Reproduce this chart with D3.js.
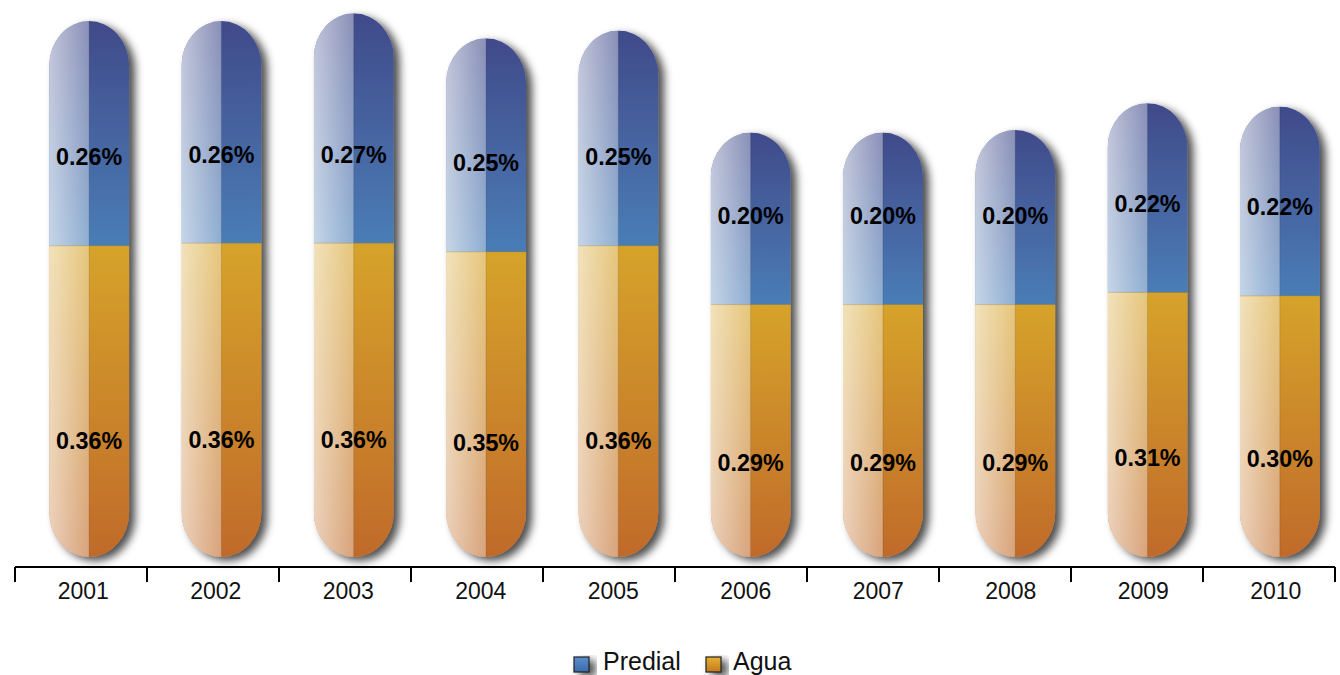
<!DOCTYPE html>
<html>
<head>
<meta charset="utf-8">
<script src="https://cdn.jsdelivr.net/npm/d3@7"></script>
<style>
  body { margin: 0; background: #fff; }
  text { font-family: "Liberation Sans", Arial, sans-serif; }
</style>
</head>
<body>
<div id="chart"></div>
<script>
// data
var years = ["2001", "2002", "2003", "2004", "2005", "2006", "2007", "2008", "2009", "2010"];
var agua = [0.360, 0.363, 0.363, 0.353, 0.360, 0.292, 0.292, 0.292, 0.306, 0.302];
var predial = [0.260, 0.257, 0.266, 0.247, 0.249, 0.199, 0.199, 0.202, 0.219, 0.219];
var seriesNames = ["Predial", "Agua"];

var svgWidth = 1340;
var svgHeight = 675;

var svg = d3.select("#chart")
  .append("svg")
  .attr("width", svgWidth)
  .attr("height", svgHeight);

var defs = svg.append("defs");

// vertical colour gradients
function vGrad(id, top, bottom) {
  var g = defs.append("linearGradient").attr("id", id)
    .attr("x1", 0).attr("y1", 0).attr("x2", 0).attr("y2", 1);
  g.append("stop").attr("offset", "0%").attr("stop-color", top);
  g.append("stop").attr("offset", "100%").attr("stop-color", bottom);
}
vGrad("gPredial", "#414a8a", "#4a7db6");
vGrad("gAgua", "#d6a32a", "#c06a2a");
vGrad("gPredialLeg", "#5a8fd0", "#3a6aa8");
vGrad("gAguaLeg", "#e8b030", "#c07a20");

// white sheen for the left half
var sheen = defs.append("linearGradient").attr("id", "sheen")
  .attr("x1", 0).attr("y1", 0).attr("x2", 1).attr("y2", 0);
sheen.append("stop").attr("offset", "0%").attr("stop-color", "#fff").attr("stop-opacity", 0.68);
sheen.append("stop").attr("offset", "100%").attr("stop-color", "#fff").attr("stop-opacity", 0.38);

var shadow = defs.append("filter").attr("id", "shadow")
  .attr("x", "-30%").attr("y", "-10%").attr("width", "180%").attr("height", "130%");
shadow.append("feDropShadow")
  .attr("dx", 6).attr("dy", 4).attr("stdDeviation", 4.5)
  .attr("flood-color", "#000").attr("flood-opacity", 0.7);

// scales: axis bands, bar positions, tick label positions
var xScale = d3.scaleBand()
  .domain(years)
  .range([15, 1335])
  .padding(0);

var barScale = d3.scaleBand()
  .domain(years)
  .range([23, 1346])
  .padding(0);

var labelScale = d3.scaleBand()
  .domain(years)
  .range([17, 1342])
  .padding(0);

var yScale = d3.scaleLinear()
  .domain([0, 0.62])
  .range([557, 21]);

var barW = 80;
var rx = barW / 2, ry = 45;

var data = years.map(function(y, i) {
  return { year: y, agua: agua[i], predial: predial[i], i: i };
});

function cx(d) { return barScale(d.year) + barScale.bandwidth() / 2; }

function capsule(d) {
  var l = cx(d) - rx, r = cx(d) + rx;
  var top = yScale(d.agua + d.predial), bot = yScale(0);
  return "M" + l + "," + (top + ry) +
    " A" + rx + "," + ry + " 0 0 1 " + r + "," + (top + ry) +
    " L" + r + "," + (bot - ry) +
    " A" + rx + "," + ry + " 0 0 1 " + l + "," + (bot - ry) + " Z";
}

data.forEach(function(d) {
  defs.append("clipPath").attr("id", "clip" + d.i)
    .append("path").attr("d", capsule(d));
});

var bars = svg.selectAll(".bar")
  .data(data)
  .enter()
  .append("g")
  .attr("class", "bar")
  .attr("filter", "url(#shadow)");

var inner = bars.append("g")
  .attr("clip-path", function(d) { return "url(#clip" + d.i + ")"; });

// agua segment
inner.append("rect")
  .attr("x", function(d) { return cx(d) - rx; })
  .attr("y", function(d) { return yScale(d.agua); })
  .attr("width", barW)
  .attr("height", function(d) { return yScale(0) - yScale(d.agua); })
  .attr("fill", "url(#gAgua)");

// predial segment
inner.append("rect")
  .attr("x", function(d) { return cx(d) - rx; })
  .attr("y", function(d) { return yScale(d.agua + d.predial); })
  .attr("width", barW)
  .attr("height", function(d) { return yScale(d.agua) - yScale(d.agua + d.predial); })
  .attr("fill", "url(#gPredial)");

// left half sheen
inner.append("rect")
  .attr("x", function(d) { return cx(d) - rx; })
  .attr("y", 0)
  .attr("width", rx)
  .attr("height", yScale(0) + 5)
  .attr("fill", "url(#sheen)");

// divider lines
inner.append("line")
  .attr("x1", function(d) { return cx(d); })
  .attr("x2", function(d) { return cx(d); })
  .attr("y1", 0)
  .attr("y2", yScale(0) + 5)
  .attr("stroke", "#000")
  .attr("stroke-opacity", 0.12);

inner.append("line")
  .attr("x1", function(d) { return cx(d) - rx; })
  .attr("x2", function(d) { return cx(d) + rx; })
  .attr("y1", function(d) { return yScale(d.agua); })
  .attr("y2", function(d) { return yScale(d.agua); })
  .attr("stroke", "#b08020")
  .attr("stroke-opacity", 0.35);

// value labels
svg.selectAll(".lblP")
  .data(data)
  .enter()
  .append("text")
  .attr("x", cx)
  .attr("y", function(d) { return yScale(d.agua + 0.103); })
  .attr("dy", "0.36em")
  .attr("text-anchor", "middle")
  .attr("font-weight", "bold")
  .attr("font-size", "23.3px")
  .attr("fill", "#000")
  .text(function(d) { return d.predial.toFixed(2) + "%"; });

svg.selectAll(".lblA")
  .data(data)
  .enter()
  .append("text")
  .attr("x", cx)
  .attr("y", function(d) { return yScale(d.agua * 0.375); })
  .attr("dy", "0.36em")
  .attr("text-anchor", "middle")
  .attr("font-weight", "bold")
  .attr("font-size", "23.3px")
  .attr("fill", "#000")
  .text(function(d) { return d.agua.toFixed(2) + "%"; });

// x axis
var axisG = svg.append("g")
  .attr("transform", "translate(0,567)");
axisG.append("line")
  .attr("x1", xScale.range()[0]).attr("x2", xScale.range()[1])
  .attr("stroke", "#000").attr("stroke-width", 2);
axisG.selectAll(".sep")
  .data(years.concat(["end"]))
  .enter()
  .append("line")
  .attr("x1", function(d, i) { return i < years.length ? xScale(d) : xScale.range()[1]; })
  .attr("x2", function(d, i) { return i < years.length ? xScale(d) : xScale.range()[1]; })
  .attr("y1", 0).attr("y2", 15)
  .attr("stroke", "#000").attr("stroke-width", 2);

var bottomAxis = d3.axisBottom(labelScale).tickSize(0).tickPadding(0);
var labelG = svg.append("g")
  .attr("transform", "translate(0,567)")
  .call(bottomAxis);
labelG.select(".domain").remove();
labelG.selectAll(".tick text")
  .attr("y", 32)
  .attr("dy", 0)
  .attr("font-family", "Liberation Sans, Arial, sans-serif")
  .attr("font-size", "23px")
  .attr("fill", "#111");

// legend
var legend = svg.append("g");
var legX = [574, 706];
var legText = [603, 733];
var legFill = ["url(#gPredialLeg)", "url(#gAguaLeg)"];
seriesNames.forEach(function(name, i) {
  legend.append("rect")
    .attr("x", legX[i]).attr("y", 657)
    .attr("width", 15).attr("height", 15)
    .attr("fill", legFill[i])
    .attr("stroke", "#222").attr("stroke-width", 1.2)
    .attr("filter", "url(#shadow)");
  legend.append("text")
    .attr("x", legText[i]).attr("y", 670)
    .attr("font-size", "25px")
    .attr("fill", "#111")
    .text(name);
});
</script>
</body>
</html>
